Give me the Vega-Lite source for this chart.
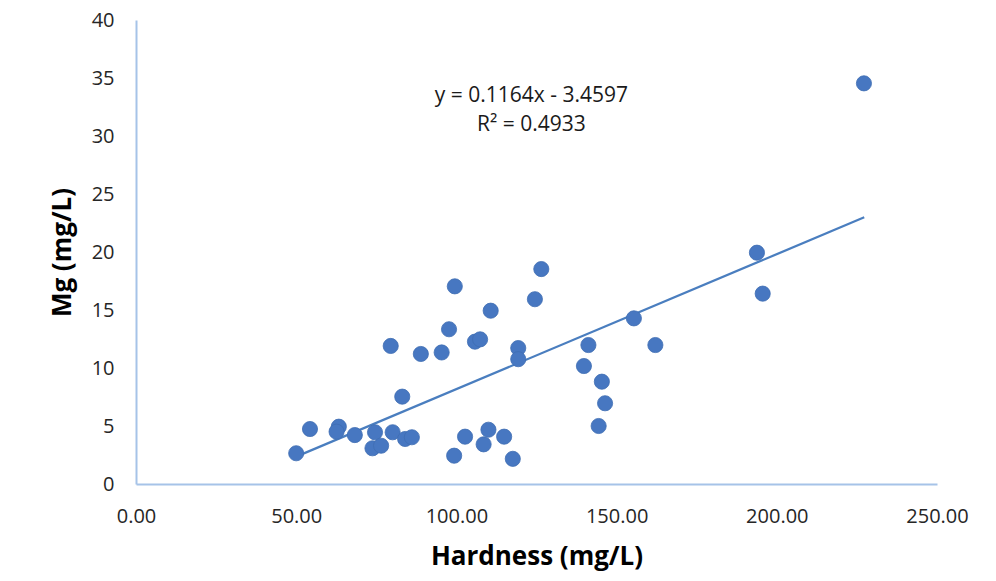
{
  "$schema": "https://vega.github.io/schema/vega-lite/v6.json",
  "width": 801,
  "height": 464,
  "autosize": "none",
  "padding": {"left": 136, "top": 20, "right": 59, "bottom": 97},
  "background": "white",
  "config": {
    "view": {"stroke": null},
    "font": "Open Sans",
    "axis": {
      "grid": false,
      "ticks": false,
      "labelFlush": false,
      "domainColor": "#a6c3e8",
      "domainWidth": 2,
      "labelFont": "Open Sans",
      "labelFontSize": 20,
      "labelColor": "#262626",
      "titleFont": "Open Sans",
      "titleFontSize": 26,
      "titleFontWeight": "bold",
      "titleColor": "#000000"
    }
  },
  "datasets": {
    "pts": [
      {"h": 50.0, "mg": 2.65}, {"h": 54.3, "mg": 4.74}, {"h": 63.3, "mg": 4.94}, {"h": 62.6, "mg": 4.51},
      {"h": 68.3, "mg": 4.22}, {"h": 74.6, "mg": 4.46}, {"h": 73.8, "mg": 3.08}, {"h": 76.5, "mg": 3.30},
      {"h": 80.1, "mg": 4.46}, {"h": 84.0, "mg": 3.88}, {"h": 86.1, "mg": 4.03}, {"h": 83.1, "mg": 7.53},
      {"h": 79.5, "mg": 11.90}, {"h": 88.9, "mg": 11.21}, {"h": 95.4, "mg": 11.34}, {"h": 97.7, "mg": 13.34},
      {"h": 99.5, "mg": 17.04}, {"h": 105.8, "mg": 12.27}, {"h": 107.4, "mg": 12.47}, {"h": 110.7, "mg": 14.94},
      {"h": 99.3, "mg": 2.44}, {"h": 102.7, "mg": 4.08}, {"h": 110.0, "mg": 4.68}, {"h": 108.5, "mg": 3.42},
      {"h": 114.9, "mg": 4.08}, {"h": 117.6, "mg": 2.17}, {"h": 119.3, "mg": 11.72}, {"h": 119.3, "mg": 10.76},
      {"h": 124.5, "mg": 15.93}, {"h": 126.5, "mg": 18.53}, {"h": 141.2, "mg": 11.98}, {"h": 155.4, "mg": 14.28},
      {"h": 162.1, "mg": 11.98}, {"h": 139.8, "mg": 10.17}, {"h": 145.4, "mg": 8.82}, {"h": 146.4, "mg": 6.96},
      {"h": 144.4, "mg": 5.0}, {"h": 193.8, "mg": 19.94}, {"h": 195.6, "mg": 16.41}, {"h": 227.2, "mg": 34.54}
    ],
    "trend": [
      {"h": 50.0, "mg": 2.36},
      {"h": 227.3, "mg": 22.99}
    ],
    "labels": [
      {"h": 123.4, "mg": 33.45, "t": "y = 0.1164x - 3.4597"},
      {"h": 123.4, "mg": 30.95, "t": "R² = 0.4933"}
    ]
  },
  "encoding": {
    "x": {
      "field": "h", "type": "quantitative",
      "scale": {"domain": [0, 250], "nice": false, "zero": true},
      "axis": {"values": [0, 50, 100, 150, 200, 250], "format": ".2f", "labelPadding": 22, "title": "Hardness (mg/L)", "titlePadding": 17}
    },
    "y": {
      "field": "mg", "type": "quantitative",
      "scale": {"domain": [0, 40], "nice": false},
      "axis": {"values": [0, 5, 10, 15, 20, 25, 30, 35, 40], "labelPadding": 22, "title": "Mg (mg/L)", "titlePadding": 16}
    }
  },
  "layer": [
    {
      "data": {"name": "trend"},
      "mark": {"type": "line", "color": "#4a7ebf", "strokeWidth": 2.25},
      "encoding": {}
    },
    {
      "data": {"name": "pts"},
      "mark": {"type": "circle", "size": 230, "color": "#4777c1", "opacity": 1, "stroke": "#3f6db3", "strokeWidth": 0.8}
    },
    {
      "data": {"name": "labels"},
      "mark": {"type": "text", "fontSize": 21, "color": "#1a1a1a", "font": "Open Sans", "align": "center", "baseline": "middle"},
      "encoding": {"text": {"field": "t"}}
    }
  ]
}
